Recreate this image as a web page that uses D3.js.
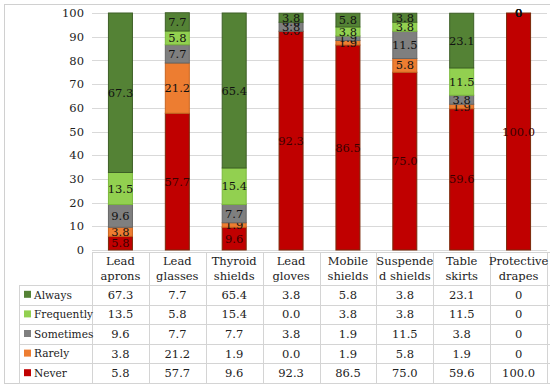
<!DOCTYPE html>
<html>
<head>
<meta charset="utf-8">
<script src="https://cdn.jsdelivr.net/npm/d3@7"></script>
<style>
  body { margin: 0; background: #fff; }
  svg text { font-family: "DejaVu Serif", "Liberation Serif", "Times New Roman", serif; }
</style>
</head>
<body>
<div id="chart"></div>
<script>
const categories = [
  ['Lead', 'aprons'], ['Lead', 'glasses'], ['Thyroid', 'shields'], ['Lead', 'gloves'],
  ['Mobile', 'shields'], ['Suspende', 'd shields'], ['Table', 'skirts'], ['Protective', 'drapes']
];
const seriesNames = ['Never', 'Rarely', 'Sometimes', 'Frequently', 'Always'];
const never      = ['5.8', '57.7', '9.6', '92.3', '86.5', '75.0', '59.6', '100.0'];
const rarely     = ['3.8', '21.2', '1.9', '0.0', '1.9', '5.8', '1.9', '0'];
const sometimes  = ['9.6', '7.7', '7.7', '3.8', '1.9', '11.5', '3.8', '0'];
const frequently = ['13.5', '5.8', '15.4', '0.0', '3.8', '3.8', '11.5', '0'];
const always     = ['67.3', '7.7', '65.4', '3.8', '5.8', '3.8', '23.1', '0'];
const yTicks = [0, 10, 20, 30, 40, 50, 60, 70, 80, 90, 100];

const seriesValues = { Never: never, Rarely: rarely, Sometimes: sometimes, Frequently: frequently, Always: always };
const colors = { Always: '#548235', Frequently: '#92d050', Sometimes: '#7f7f7f', Rarely: '#ed7d31', Never: '#c00000' };
const strokes = { Always: '#3d5f26', Frequently: '#7ab83c', Sometimes: '#666', Rarely: '#c8651f', Never: '#7a2a0a' };
const fontSize = '11.5px';

const width = 550, height = 388;
const plotLeft = 92, plotRight = 547, plotTop = 13, plotBottom = 250;

const svg = d3.select('#chart').append('svg')
  .attr('width', width).attr('height', height);

// outer frame
svg.append('rect')
  .attr('x', 4.5).attr('y', 4.5).attr('width', 560).attr('height', 379)
  .attr('fill', 'none').attr('stroke', '#d0d0d0');

const x = d3.scaleBand()
  .domain(d3.range(categories.length))
  .range([plotLeft, plotRight]);

const y = d3.scaleLinear().domain([0, 100]).range([plotBottom, plotTop]);

// gridlines
svg.append('g')
  .selectAll('line')
  .data(yTicks)
  .enter()
  .append('line')
  .attr('x1', plotLeft).attr('x2', plotRight)
  .attr('y1', d => Math.round(y(d)) + 0.5).attr('y2', d => Math.round(y(d)) + 0.5)
  .attr('stroke', '#d9d9d9');

// y axis labels
const yAxis = svg.append('g')
  .attr('transform', `translate(${plotLeft - 8},0)`)
  .call(d3.axisLeft(y).tickValues(yTicks).tickSize(0).tickPadding(0));
yAxis.attr('font-family', null);
yAxis.select('.domain').remove();
yAxis.selectAll('text')
  .attr('font-size', fontSize)
  .attr('fill', '#222');

// stacked data
const rows = categories.map((c, i) => {
  const r = { i };
  seriesNames.forEach(s => { r[s] = +seriesValues[s][i]; });
  return r;
});
const stacked = d3.stack().keys(seriesNames)(rows);

const barW = 24;
const layers = svg.append('g')
  .selectAll('g')
  .data(stacked)
  .enter()
  .append('g');

layers.selectAll('rect')
  .data(d => d.map(v => ({ key: d.key, v })))
  .enter()
  .append('rect')
  .attr('x', d => x(d.v.data.i) + x.bandwidth() / 2 - barW / 2)
  .attr('width', barW)
  .attr('y', d => y(d.v[1]))
  .attr('height', d => y(d.v[0]) - y(d.v[1]))
  .attr('fill', d => colors[d.key])
  .attr('stroke', d => strokes[d.key])
  .attr('stroke-width', d => (d.v[1] - d.v[0]) > 0 ? 1 : 0);

layers.selectAll('text')
  .data(d => d.map(v => ({ key: d.key, v })))
  .enter()
  .append('text')
  .attr('x', d => x(d.v.data.i) + x.bandwidth() / 2)
  .attr('y', d => y((d.v[0] + d.v[1]) / 2))
  .attr('dy', '0.35em')
  .attr('text-anchor', 'middle')
  .attr('font-size', fontSize)
  .attr('fill', d => d.key === 'Never' ? '#3a0000' : '#111')
  .text(d => seriesValues[d.key][d.v.data.i]);

// data table
const headerTop = 252, headerBottom = 285, rowH = 19.6;
const legendLeft = 19;
const tableRows = ['Always', 'Frequently', 'Sometimes', 'Rarely', 'Never'];
const tableBottom = headerBottom + rowH * tableRows.length;
const grid = svg.append('g').attr('stroke', '#d4d4d4').attr('fill', 'none');

// horizontal lines
grid.append('line').attr('x1', plotLeft).attr('x2', plotRight + 5).attr('y1', headerTop + 0.5).attr('y2', headerTop + 0.5);
tableRows.concat(['end']).forEach((r, k) => {
  const yy = Math.round(headerBottom + rowH * k) + 0.5;
  grid.append('line').attr('x1', legendLeft).attr('x2', plotRight + 5).attr('y1', yy).attr('y2', yy);
});
// vertical lines
grid.append('line').attr('x1', legendLeft + 0.5).attr('x2', legendLeft + 0.5).attr('y1', headerBottom).attr('y2', tableBottom);
d3.range(categories.length + 1).forEach(i => {
  const xx = Math.round(plotLeft + x.step() * i) + 0.5;
  grid.append('line').attr('x1', xx).attr('x2', xx).attr('y1', headerTop).attr('y2', tableBottom);
});

// category headers
const header = svg.append('g');
categories.forEach((c, i) => {
  const t = header.append('text')
    .attr('x', x(i) + x.bandwidth() / 2)
    .attr('text-anchor', 'middle')
    .attr('font-size', fontSize)
    .attr('fill', '#222');
  t.append('tspan').attr('x', x(i) + x.bandwidth() / 2).attr('y', 265).text(c[0]);
  t.append('tspan').attr('x', x(i) + x.bandwidth() / 2).attr('y', 280).text(c[1]);
});

// legend + values
tableRows.forEach((s, k) => {
  const cy = headerBottom + rowH * k + rowH / 2;
  svg.append('rect')
    .attr('x', 24).attr('y', cy - 4).attr('width', 7).attr('height', 7)
    .attr('fill', colors[s]);
  svg.append('text')
    .attr('x', 34).attr('y', cy).attr('dy', '0.35em')
    .attr('font-size', '10.6px').attr('fill', '#222')
    .text(s);
  seriesValues[s].forEach((v, i) => {
    svg.append('text')
      .attr('x', x(i) + x.bandwidth() / 2).attr('y', cy).attr('dy', '0.35em')
      .attr('text-anchor', 'middle')
      .attr('font-size', fontSize).attr('fill', '#222')
      .text(v);
  });
});
</script>
</body>
</html>
